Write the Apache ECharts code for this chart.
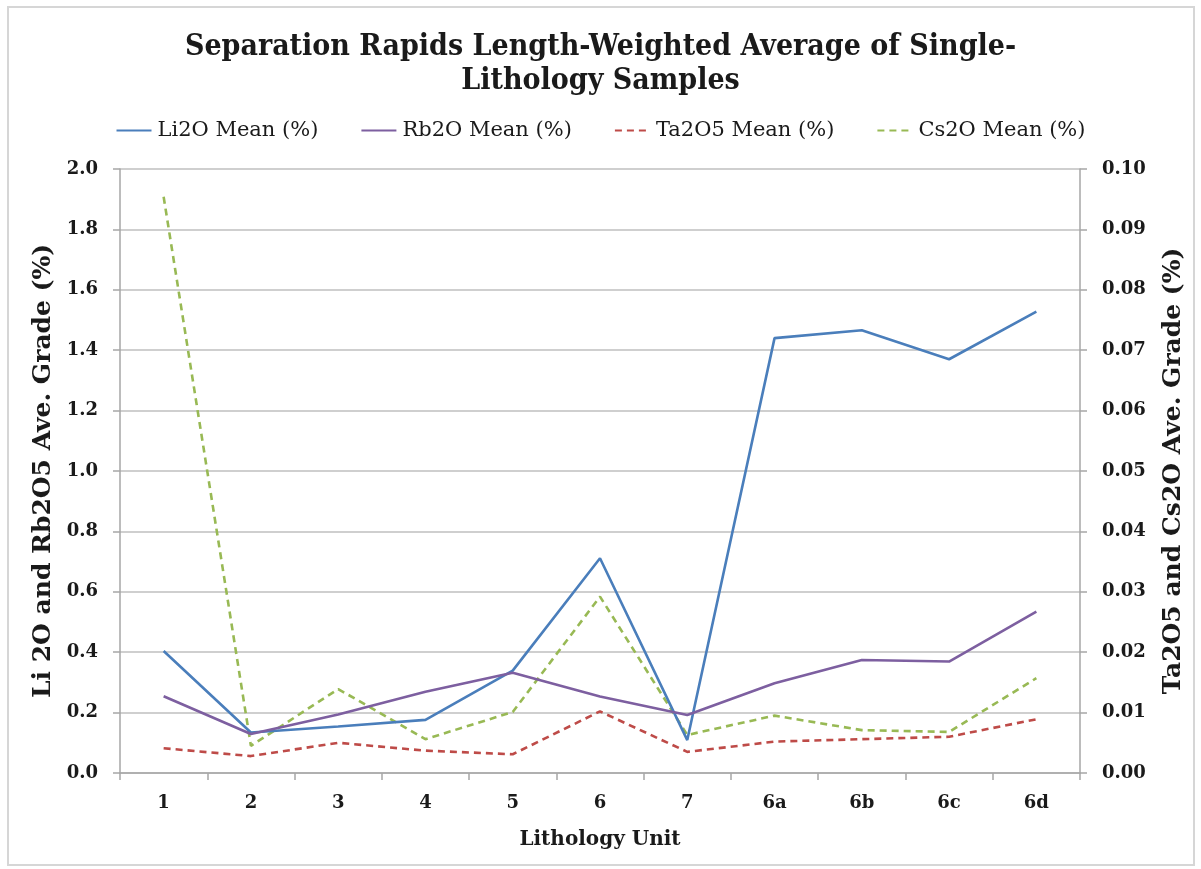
<!DOCTYPE html>
<html>
<head>
<meta charset="utf-8">
<script src="https://cdn.jsdelivr.net/npm/echarts@6/dist/echarts.min.js"></script>
<style>
  html, body { margin: 0; padding: 0; background: #ffffff; }
  #chart { width: 1201px; height: 869px; }
</style>
</head>
<body>
<div id="chart"></div>
<script>
// Lithology units along the x axis
const units = ['1', '2', '3', '4', '5', '6', '7', '6a', '6b', '6c', '6d'];

// Left axis series (%)
const li2o = [0.404, 0.134, 0.154, 0.176, 0.339, 0.711, 0.109, 1.44, 1.466, 1.37, 1.528];
const rb2o = [0.254, 0.129, 0.194, 0.269, 0.332, 0.253, 0.192, 0.297, 0.374, 0.369, 0.534];

// Right axis series (%)
const ta2o5 = [0.0041, 0.0028, 0.0050, 0.0037, 0.0031, 0.0102, 0.0035, 0.0052, 0.0056, 0.0060, 0.0089];
const cs2o = [0.0954, 0.0045, 0.0139, 0.0056, 0.0101, 0.0292, 0.0063, 0.0095, 0.0071, 0.0068, 0.0157];

const SERIF = '"DejaVu Serif", serif';
const SERIF_COND = '"DejaVu Serif Condensed", "DejaVu Serif", serif';
const INK = '#1a1a1a';
const GRID = '#bfbfbf';
const AXIS = '#a6a6a6';

const chart = echarts.init(document.getElementById('chart'), null, { renderer: 'canvas' });

const lineSeries = (name, data, color, yAxisIndex, dashed) => ({
  name, type: 'line', data, yAxisIndex,
  symbol: 'none', smooth: false,
  lineStyle: { color, width: 2.6, type: dashed ? [7, 5] : 'solid' },
  itemStyle: { color },
  z: dashed ? 3 : 4
});

const tickLabel = { fontFamily: SERIF, fontWeight: 'bold', fontSize: 18, color: INK };
const axisTitle = { fontFamily: SERIF, fontWeight: 'bold', fontSize: 25, color: INK };

chart.setOption({
  backgroundColor: '#ffffff',
  animation: false,
  textStyle: { fontFamily: SERIF },
  graphic: [{
    type: 'rect',
    shape: { x: 8, y: 7, width: 1186, height: 858 },
    style: { fill: 'none', stroke: '#d6d6d6', lineWidth: 2 },
    z: -1
  }],
  title: {
    text: 'Separation Rapids Length-Weighted Average of Single-\nLithology Samples',
    left: 'center',
    top: 25,
    textStyle: { fontFamily: SERIF_COND, fontWeight: 'bold', fontSize: 30, lineHeight: 34, color: INK }
  },
  legend: {
    top: 115,
    left: 'center',
    itemWidth: 35,
    itemHeight: 14,
    itemGap: 42,
    itemStyle: { opacity: 0 },
    textStyle: { fontFamily: SERIF, fontSize: 21, color: INK, padding: [0, 0, 0, 1] },
    data: ['Li2O Mean (%)', 'Rb2O Mean (%)', 'Ta2O5 Mean (%)', 'Cs2O Mean (%)']
  },
  grid: { left: 120, right: 121, top: 169, bottom: 96, containLabel: false },
  xAxis: {
    type: 'category',
    data: units,
    boundaryGap: true,
    name: 'Lithology Unit',
    nameLocation: 'middle',
    nameGap: 57,
    nameTextStyle: { fontFamily: SERIF, fontWeight: 'bold', fontSize: 20, color: INK },
    axisLine: { lineStyle: { color: AXIS, width: 1.5 } },
    axisTick: { show: true, alignWithLabel: false, length: 7, lineStyle: { color: AXIS, width: 1.5 } },
    axisLabel: Object.assign({ margin: 21 }, tickLabel)
  },
  yAxis: [{
    type: 'value',
    min: 0, max: 2, interval: 0.2,
    position: 'left',
    name: 'Li 2O and Rb2O5 Ave. Grade (%)',
    nameLocation: 'middle',
    nameGap: 62,
    nameTextStyle: axisTitle,
    axisLine: { show: true, lineStyle: { color: AXIS, width: 1.5 } },
    axisTick: { show: true, length: 7, lineStyle: { color: AXIS, width: 1.5 } },
    splitLine: { show: true, lineStyle: { color: GRID, width: 1.5 } },
    axisLabel: Object.assign({ margin: 22, formatter: v => v.toFixed(1) }, tickLabel)
  }, {
    type: 'value',
    min: 0, max: 0.1, interval: 0.01,
    position: 'right',
    name: 'Ta2O5 and Cs2O Ave. Grade (%)',
    nameLocation: 'middle',
    nameGap: 81,
    nameRotate: 90,
    nameTextStyle: axisTitle,
    axisLine: { show: true, lineStyle: { color: AXIS, width: 1.5 } },
    axisTick: { show: true, length: 7, lineStyle: { color: AXIS, width: 1.5 } },
    splitLine: { show: false },
    axisLabel: Object.assign({ margin: 22, formatter: v => v.toFixed(2) }, tickLabel)
  }],
  series: [
    lineSeries('Li2O Mean (%)', li2o, '#4a7ebb', 0, false),
    lineSeries('Rb2O Mean (%)', rb2o, '#7d5fa0', 0, false),
    lineSeries('Ta2O5 Mean (%)', ta2o5, '#be4b48', 1, true),
    lineSeries('Cs2O Mean (%)', cs2o, '#98b954', 1, true)
  ]
});
</script>
</body>
</html>
